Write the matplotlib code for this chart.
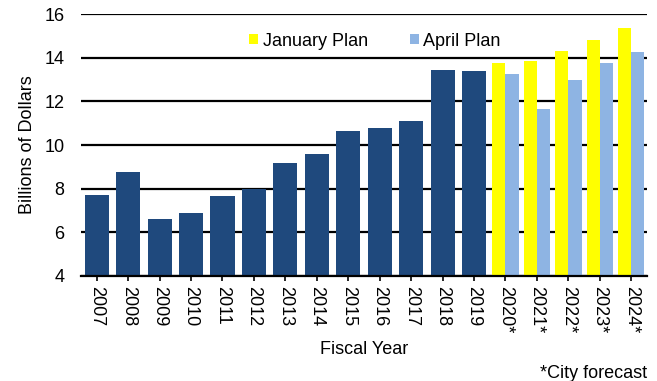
import matplotlib
matplotlib.use("Agg")
import matplotlib.pyplot as plt
import numpy as np

plt.rcParams['font.family'] = ['Liberation Sans', 'DejaVu Sans']

# Actual spending by fiscal year
actual_years = ["2007", "2008", "2009", "2010", "2011", "2012", "2013",
                "2014", "2015", "2016", "2017", "2018", "2019"]
actual_values = [7.7, 8.75, 6.6, 6.88, 7.65, 8.0, 9.18,
                 9.58, 10.63, 10.77, 11.1, 13.44, 13.4]

# Forecast years under the two plans
forecast_years = ["2020*", "2021*", "2022*", "2023*", "2024*"]
january_plan = [13.75, 13.83, 14.31, 14.83, 15.35]
april_plan = [13.25, 11.67, 12.98, 13.75, 14.28]

navy = "#1F497D"
yellow = "#FFFF00"
light_blue = "#8EB4E3"
fs = 13

W, H = 657, 381
fig = plt.figure(figsize=(W / 100, H / 100), dpi=100)
ax = fig.add_axes([81 / W, 1 - 276 / H, 566 / W, 262 / H])

labels = actual_years + forecast_years
x_actual = np.arange(len(actual_years))
x_fc = np.arange(len(actual_years), len(labels))

ax.bar(x_actual, actual_values, width=0.77, color=navy, zorder=3)
w = 0.42
ax.bar(x_fc - w / 2, january_plan, width=w, color=yellow, zorder=3,
       label="January Plan")
ax.bar(x_fc + w / 2, april_plan, width=w, color=light_blue, zorder=3,
       label="April Plan")

ax.set_xlim(-0.5, len(labels) - 0.5)
ax.set_ylim(4, 16)
ax.set_yticks([4, 6, 8, 10, 12, 14, 16])
ax.yaxis.grid(True, color="black", linewidth=1.6, zorder=2)
ax.set_axisbelow(False)
for s in ["left", "right", "top"]:
    ax.spines[s].set_visible(False)
ax.spines["bottom"].set_linewidth(1.6)
ax.spines["bottom"].set_zorder(4)

ax.set_xticks(np.arange(len(labels)))
ax.set_xticklabels(labels, rotation=270, fontsize=fs)
ax.tick_params(axis="x", direction="out", length=3.5, width=1.2, pad=4)
ax.tick_params(axis="y", length=0, labelsize=fs, pad=12)

ax.set_ylabel("Billions of Dollars", fontsize=fs, labelpad=6)
ax.set_xlabel("Fiscal Year", fontsize=fs, labelpad=5)

leg = fig.legend(*ax.get_legend_handles_labels(), loc="center left",
                 bbox_to_anchor=(249 / W, 1 - 41 / H), ncol=2,
                 frameon=False, fontsize=fs, handlelength=0.5,
                 handleheight=0.5, handletextpad=0.27, columnspacing=2.3,
                 borderpad=0, borderaxespad=0)

fig.text(647 / W, 1 - 373 / H, "*City forecast", ha="right", va="center",
         fontsize=fs)

fig.savefig("out.png", dpi=100)
